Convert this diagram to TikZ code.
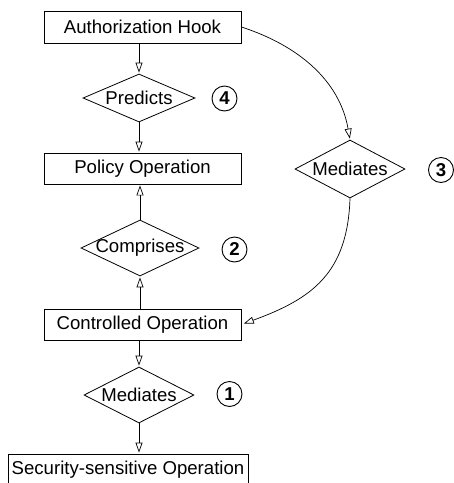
\documentclass[tikz,border=0pt]{standalone}
\usepackage{fontspec}
\setmainfont{Liberation Sans}
\usetikzlibrary{shapes.geometric,arrows.meta,calc}
\begin{document}
\begin{tikzpicture}[x=1pt,y=-1pt,
  every node/.style={font=\fontsize{18.6}{22}\selectfont},
  box/.style={draw, line width=0.9pt, rectangle, inner sep=0pt, minimum height=31pt},
  dia/.style={draw, line width=0.8pt, diamond, inner sep=0pt},
  num/.style={draw, line width=0.9pt, circle, inner sep=0pt, minimum size=25pt, font=\fontsize{18.6}{22}\selectfont\bfseries},
  arr/.style={line width=0.7pt, -{Triangle[open,length=10pt,width=7pt]}, shorten >=1pt}
]
\useasboundingbox (0,0) rectangle (454,483);
% boxes
\node[box, minimum width=197pt, minimum height=32pt] (ah) at (142.5,27) {Authorization Hook};
\node[box, minimum width=197pt] (po) at (142.5,168.5) {Policy Operation};
\node[box, minimum width=197pt] (cn) at (142.5,324.5) {Controlled Operation};
\node[box, minimum width=240pt] (ss) at (128,469.5) {Security-sensitive Operation};
% diamonds
\node[dia, minimum width=112pt, minimum height=48pt] (pr) at (139,98) {\makebox[0pt]{Predicts}};
\node[dia, minimum width=118pt, minimum height=56pt] (co) at (140,248) {\makebox[0pt]{Comprises}};
\node[dia, minimum width=110pt, minimum height=56pt] (m1) at (139,395) {\makebox[0pt]{Mediates}};
\node[dia, minimum width=110pt, minimum height=58pt] (m3) at (350,169) {\makebox[0pt]{Mediates}};
% numbers
\node[num] (n4) at (224.5,98.5) {4};
\node[num] (n2) at (234.5,249.5) {2};
\node[num] (n1) at (229.5,394) {1};
\node[num] (n3) at (441,170) {3};
% vertical connectors
\draw[arr] (ah.south -| pr.north) -- (pr.north);
\draw[arr] (pr.south) -- (pr.south |- po.north);
\draw[arr] (co.north) -- (co.north |- po.south);
\draw[arr] (co.south |- cn.north) -- (co.south);
\draw[arr] (cn.south -| m1.north) -- (m1.north);
\draw[arr] (m1.south) -- (m1.south |- ss.north);
% curved connectors
\draw[arr] (ah.east) .. controls +(57,18.5) and +(-10.4,-59.1) .. (m3.north);
\draw[arr, shorten >=2.5pt] (m3.south) .. controls +(-2.5,75) and +(70.5,-25.7) .. (cn.east);
\end{tikzpicture}
\end{document}
